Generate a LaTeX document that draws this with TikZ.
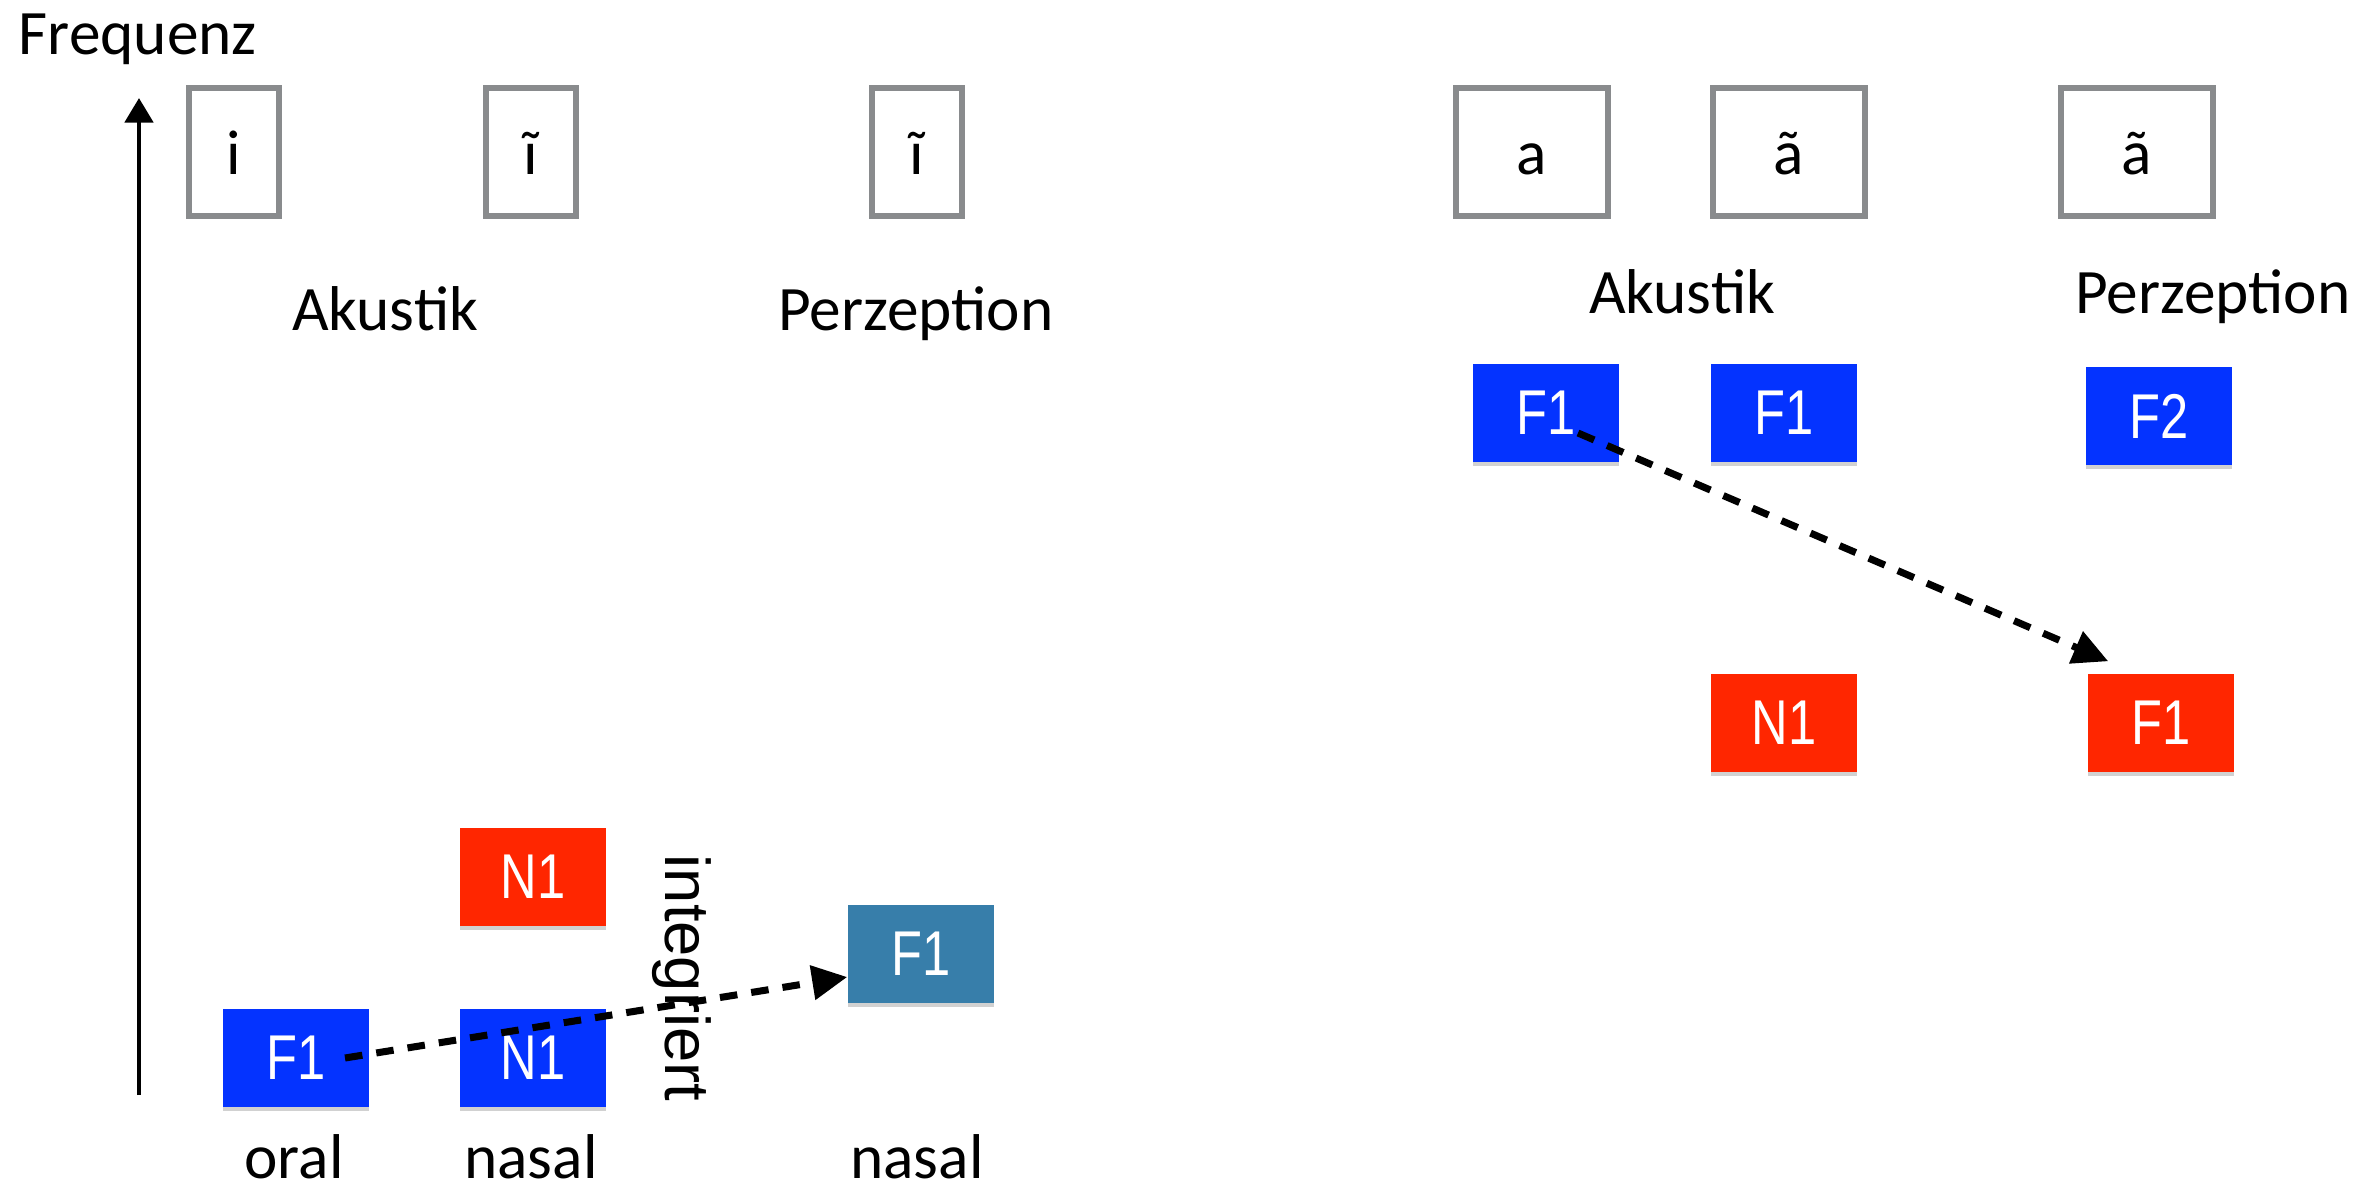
\documentclass[tikz,border=0pt]{standalone}
\usepackage{fontspec}
\usepackage{graphicx}
\setmainfont{Carlito}
\newfontfamily\boxfont{Liberation Sans}
\usetikzlibrary{arrows.meta,calc,shadows}
\definecolor{kblue}{RGB}{4,51,255}
\definecolor{kred}{RGB}{255,38,0}
\definecolor{kteal}{RGB}{55,126,170}
\definecolor{vgray}{RGB}{137,139,141}
\newcommand\condtxt[1]{\scalebox{0.8}[1]{#1}}
\begin{document}
\begin{tikzpicture}[x=0.01cm,y=-0.01cm,
  lbl/.style={font=\fontsize{18pt}{22pt}\selectfont, inner sep=0pt},
  vowelbox/.style={draw=vgray, line width=0.06cm, fill=white, inner sep=0pt,
    minimum height=1.27cm, text height=0.44cm, text depth=0cm,
    font=\fontsize{18pt}{22pt}\selectfont},
  narrowbox/.style={vowelbox, minimum width=0.90cm},
  widebox/.style={vowelbox, minimum width=1.52cm},
  colbox/.style={minimum width=1.46cm, minimum height=0.98cm, inner sep=0pt,
    text=white, font=\boxfont\fontsize{18pt}{22pt}\selectfont,
    drop shadow={shadow xshift=0pt, shadow yshift=-1.2pt, opacity=0.18, fill=black}},
  bluebox/.style={colbox, fill=kblue},
  redbox/.style={colbox, fill=kred},
  tealbox/.style={colbox, fill=kteal},
  dasharrow/.style={line width=2pt, dash pattern=on 5pt off 4pt,
    -{Triangle[length=10pt,width=9.5pt]}},
]
\useasboundingbox (0,0) rectangle (2368,1190);
\fill[white] (0,0) rectangle (2368,1190);

% axis
\node[lbl, anchor=base west] (freq) at (18,54) {Frequenz};
\coordinate (axb) at (139,1095);
\coordinate (axt) at (139,98);
\draw[line width=1.3pt, -{Triangle[length=7pt,width=8pt]}] (axb) -- (axt);

% left vowel boxes
\node[narrowbox] (vi) at (234,152) {i};
\node[narrowbox] (vin) at (531,152) {ĩ};
\node[narrowbox] (vip) at (917,152) {ĩ};
\node[lbl, anchor=base] (akl) at (385,330) {Akustik};
\node[lbl, anchor=base] (pel) at (916,330) {Perzeption};

% right vowel boxes
\node[widebox] (va) at (1532,152) {a};
\node[widebox] (van) at (1789,152) {ã};
\node[widebox] (vap) at (2137,152) {ã};
\node[lbl, anchor=base] (akr) at (1682,313) {Akustik};
\node[lbl, anchor=base] (per) at (2213,313) {Perzeption};

% left formant boxes
\node[bluebox] (f1o) at (296,1058) {\condtxt{F1}};
\node[bluebox] (n1b) at (533,1058) {\condtxt{N1}};
\node[redbox] (n1r) at (533,877) {\condtxt{N1}};
\node[tealbox] (f1t) at (921,954) {\condtxt{F1}};
\node[font=\boxfont\fontsize{18pt}{22pt}\selectfont, inner sep=0pt, rotate=-90] (integ) at (682,978) {integriert};

\node[lbl, anchor=base] (oral) at (294,1178) {oral};
\node[lbl, anchor=base] (nas1) at (531,1178) {nasal};
\node[lbl, anchor=base] (nas2) at (917,1178) {nasal};

% right formant boxes
\node[bluebox] (f1a) at (1546,413) {\condtxt{F1}};
\node[bluebox] (f1an) at (1784,413) {\condtxt{F1}};
\node[bluebox] (f2p) at (2159,416) {\condtxt{F2}};
\node[redbox] (n1rr) at (1784,723) {\condtxt{N1}};
\node[redbox] (f1r) at (2161,723) {\condtxt{F1}};

% arrows
\draw[dasharrow] ($(f1o.center)+(49,0)$) -- ($(f1t.west)+(0,23)$);
\draw[dasharrow] ($(f1a.center)+(32,20)$) -- ($(f1r.north west)+(21,-12)$);
\end{tikzpicture}
\end{document}
